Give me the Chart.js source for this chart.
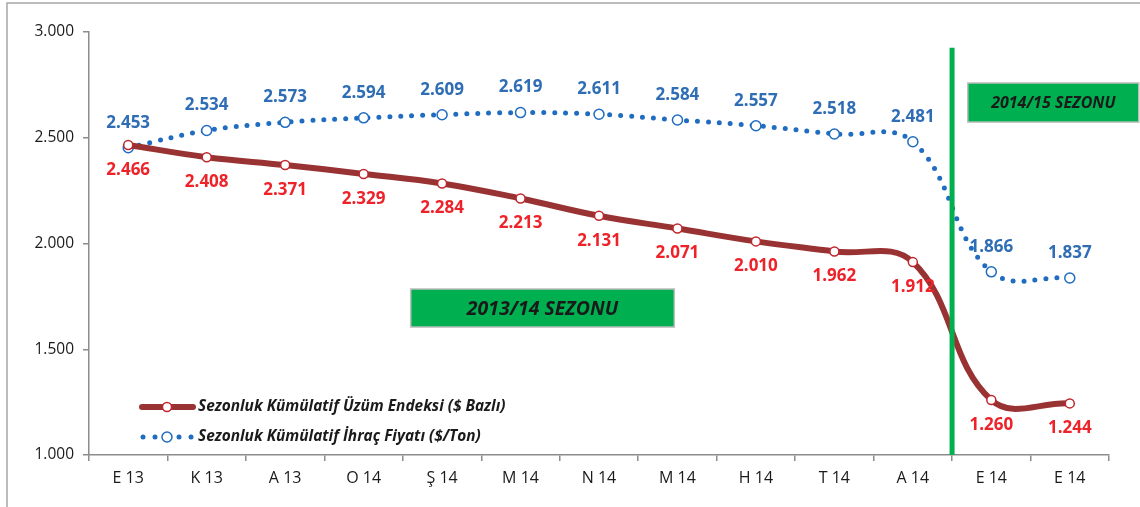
<!DOCTYPE html>
<html lang="tr">
<head>
<meta charset="UTF-8">
<title>Sezonluk Kümülatif</title>
<style>
  body { margin: 0; background: #fff; }
  #wrap { width: 1140px; height: 507px; position: relative; }
</style>
</head>
<body>
<div id="wrap">
  <canvas id="myChart" width="1140" height="507"></canvas>
</div>

<script src="https://cdn.jsdelivr.net/npm/chart.js"></script>
<script>

const categories = ['E 13', 'K 13', 'A 13', 'O 14', 'Ş 14', 'M 14', 'N 14', 'M 14', 'H 14', 'T 14', 'A 14', 'E 14', 'E 14']
const grapeIndex = [2466, 2408, 2371, 2329, 2284, 2213, 2131, 2071, 2010, 1962, 1912, 1260, 1244]
const exportPrice = [2453, 2534, 2573, 2594, 2609, 2619, 2611, 2584, 2557, 2518, 2481, 1866, 1837]
const yTicks = [1000, 1500, 2000, 2500, 3000]
const seriesNames = ['Sezonluk Kümülatif Üzüm Endeksi ($ Bazlı)', 'Sezonluk Kümülatif İhraç Fiyatı ($/Ton)']
const seasonNames = ['2013/14 SEZONU', '2014/15 SEZONU']

const RED_LINE = '#993333'
const RED_TEXT = '#ee2229'
const BLUE = '#1f6cc0'
const BLUE_TEXT = '#2f6db5'
const GREEN = '#00b050'
const FONT = '"Open Sans", "Liberation Sans", sans-serif'

const fmt = n => String(n).replace(/\B(?=(\d{3})+(?!\d))/g, '.')

// etiketler, sezon kutuları, dikey çizgi ve lejant
const extras = {
  id: 'extras',
  beforeDraw(chart) {
    const ctx = chart.ctx
    ctx.save()
    ctx.strokeStyle = '#a6a6a6'
    ctx.lineWidth = 1.5
    ctx.strokeRect(7, 3, 1200, 600)
    ctx.restore()
  },
  afterDatasetsDraw(chart) {
    const ctx = chart.ctx
    const x = chart.scales.x
    const y = chart.scales.y

    // sezon kutuları
    const box = (x0, x1, v0, v1, text, size) => {
      const l = x.getPixelForValue(x0), r = x.getPixelForValue(x1)
      const t = y.getPixelForValue(v0), b = y.getPixelForValue(v1)
      ctx.fillStyle = GREEN
      ctx.fillRect(l, t, r - l, b - t)
      ctx.strokeStyle = '#bfbfbf'
      ctx.lineWidth = 1.5
      ctx.strokeRect(l, t, r - l, b - t)
      ctx.fillStyle = '#1a1a1a'
      ctx.font = 'italic bold ' + size + 'px ' + FONT
      ctx.textAlign = 'center'
      ctx.textBaseline = 'middle'
      ctx.fillText(text, (l + r) / 2, (t + b) / 2 + 1)
    }
    ctx.save()
    box(3.6, 6.96, 1785, 1605, seasonNames[0], 19.5)
    box(10.7, 12.88, 2759, 2574, seasonNames[1], 16)

    // sezon ayırıcı çizgi
    const gx = x.getPixelForValue(10.5)
    ctx.strokeStyle = GREEN
    ctx.lineWidth = 5
    ctx.beginPath()
    ctx.moveTo(gx, y.getPixelForValue(2925))
    ctx.lineTo(gx, y.bottom)
    ctx.stroke()
    ctx.restore()
  },
  afterDraw(chart) {
    const ctx = chart.ctx
    ctx.save()
    ctx.font = 'bold 17px ' + FONT
    ctx.textAlign = 'center'
    ctx.textBaseline = 'middle'
    chart.getDatasetMeta(0).data.forEach((pt, i) => {
      ctx.fillStyle = RED_TEXT
      ctx.fillText(fmt(grapeIndex[i]), pt.x, pt.y + 25)
    })
    chart.getDatasetMeta(1).data.forEach((pt, i) => {
      ctx.fillStyle = BLUE_TEXT
      ctx.fillText(fmt(exportPrice[i]), pt.x, pt.y - 25)
    })

    // lejant
    const lx = chart.chartArea.left + 51
    const ly1 = 407, ly2 = 437
    ctx.lineCap = 'round'
    ctx.strokeStyle = RED_LINE
    ctx.lineWidth = 6
    ctx.beginPath()
    ctx.moveTo(lx + 2, ly1)
    ctx.lineTo(lx + 53, ly1)
    ctx.stroke()
    ctx.fillStyle = '#fff'
    ctx.strokeStyle = '#c0272d'
    ctx.lineWidth = 1.5
    ctx.beginPath()
    ctx.arc(lx + 27, ly1, 4.5, 0, Math.PI * 2)
    ctx.fill()
    ctx.stroke()

    ctx.fillStyle = BLUE
    ;[3, 15, 39, 51].forEach(dx => {
      ctx.beginPath()
      ctx.arc(lx + dx, ly2, 2.5, 0, Math.PI * 2)
      ctx.fill()
    })
    ctx.fillStyle = '#fff'
    ctx.strokeStyle = BLUE
    ctx.beginPath()
    ctx.arc(lx + 27, ly2, 5, 0, Math.PI * 2)
    ctx.fill()
    ctx.stroke()

    ctx.fillStyle = '#1a1a1a'
    ctx.font = 'italic bold 15.4px ' + FONT
    ctx.textAlign = 'left'
    ctx.fillText(seriesNames[0], lx + 58, ly1)
    ctx.fillText(seriesNames[1], lx + 58, ly2)
    ctx.restore()
  }
}

const diagramCanvas = document.querySelector('#myChart')

new Chart(diagramCanvas, {
  type: 'line',
  data: {
    labels: categories,
    datasets: [{
      label: seriesNames[0],
      data: grapeIndex,
      borderColor: RED_LINE,
      borderWidth: 6,
      borderCapStyle: 'round',
      tension: 0.4,
      pointRadius: 4.5,
      pointBorderWidth: 1.5,
      pointBackgroundColor: '#fff',
      pointBorderColor: '#c0272d'
    }, {
      label: seriesNames[1],
      data: exportPrice,
      borderColor: BLUE,
      borderWidth: 5,
      borderCapStyle: 'round',
      borderDash: [0, 11],
      tension: 0.4,
      pointRadius: 5,
      pointBorderWidth: 1.5,
      pointBackgroundColor: '#fff',
      pointBorderColor: BLUE
    }]
  },
  options: {
    responsive: false,
    animation: false,
    layout: { padding: { left: 0, top: 32, right: 31, bottom: 0 } },
    plugins: {
      legend: { display: false },
      tooltip: { enabled: false }
    },
    scales: {
      x: {
        offset: true,
        grid: { drawOnChartArea: false, offset: true, tickLength: 6, color: '#8c8c8c', lineWidth: 1.5 },
        border: { color: '#8c8c8c', width: 1.5 },
        ticks: { color: '#1a1a1a', font: { family: FONT, size: 16 }, padding: 8, maxRotation: 0 },
        afterFit: s => { s.height = 52 }
      },
      y: {
        min: 1000,
        max: 3000,
        afterBuildTicks: s => { s.ticks = yTicks.map(v => ({ value: v })) },
        grid: { drawOnChartArea: false, tickLength: 6, color: '#8c8c8c', lineWidth: 1.5 },
        border: { color: '#8c8c8c', width: 1.5 },
        ticks: { color: '#1a1a1a', font: { family: FONT, size: 15.5 }, padding: 9, callback: v => fmt(v) },
        afterFit: s => { s.width = 89 }
      }
    }
  },
  plugins: [extras]
})

</script>
</body>
</html>
